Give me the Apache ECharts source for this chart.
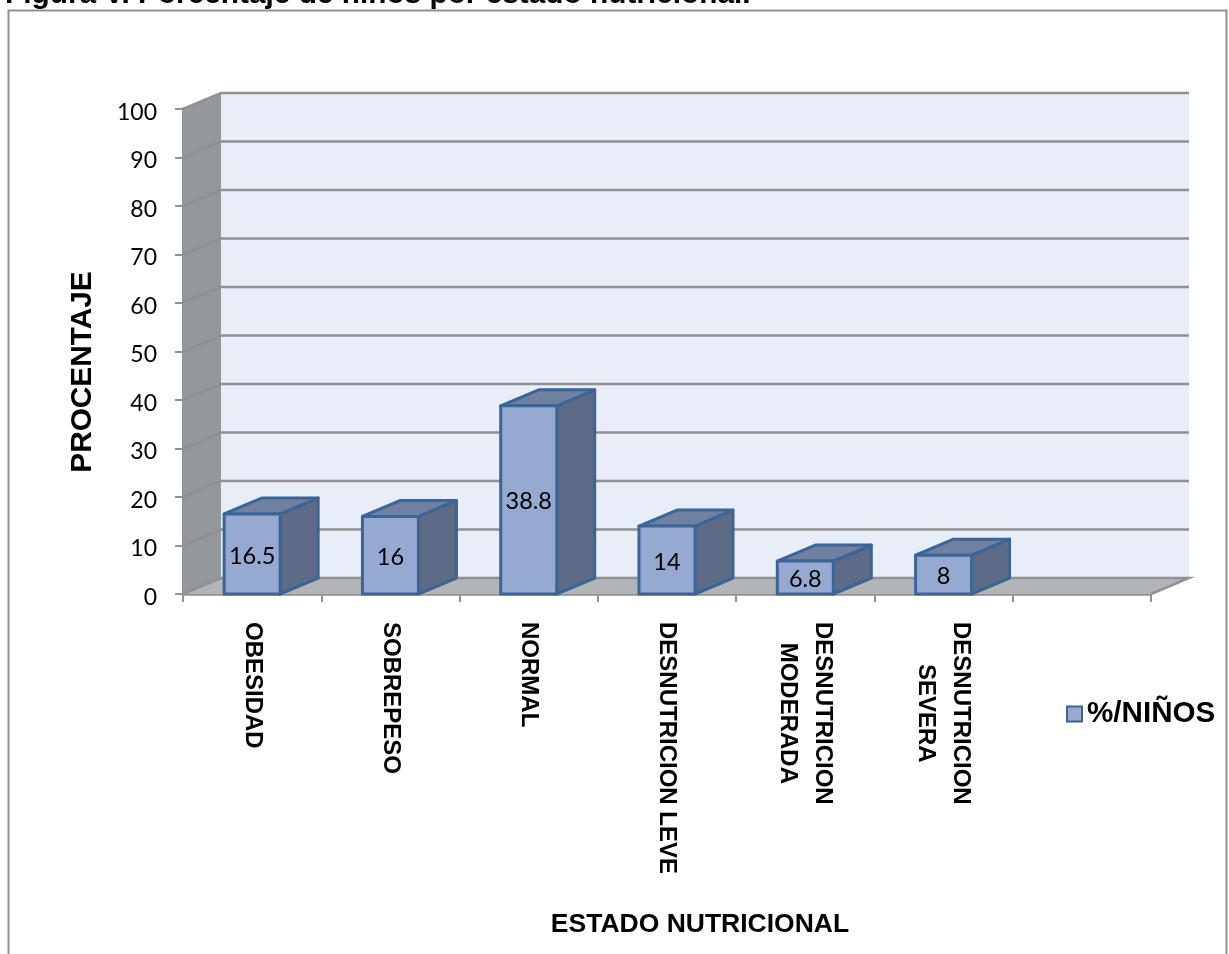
<!DOCTYPE html>
<html>
<head>
<meta charset="utf-8">
<style>html,body{margin:0;padding:0;background:#fff}#chart{width:1229px;height:954px}</style>
<script src="https://cdn.jsdelivr.net/npm/echarts@6/dist/echarts.min.js"></script>
</head>
<body>
<div id="chart"></div>
<script>
// Nutritional status of the surveyed children, in percent
const categories = ['OBESIDAD', 'SOBREPESO', 'NORMAL', 'DESNUTRICION LEVE', 'DESNUTRICION\nMODERADA', 'DESNUTRICION\nSEVERA', ''];
const percentages = [16.5, 16, 38.8, 14, 6.8, 8];
const yTicks = [0, 10, 20, 30, 40, 50, 60, 70, 80, 90, 100];
const seriesName = '%/NIÑOS';

// Oblique offset of the pseudo-3D box and walls
const DEPTH_X = 38;
const DEPTH_Y = -16;
const BAR_RATIO = 0.405;
const ARIAL = '"Liberation Sans", Arial, sans-serif';
const CALIBRI = 'Lato, Carlito, sans-serif';
const GRID_COLOR = '#8f9192';

const chart = echarts.init(document.getElementById('chart'), null, { renderer: 'canvas' });

// Back wall, side wall and floor of the plot box
function renderWalls(params, api) {
  const cs = params.coordSys;
  const left = cs.x, right = cs.x + cs.width, top = cs.y, bottom = cs.y + cs.height;
  const shift = (p) => [p[0] + DEPTH_X, p[1] + DEPTH_Y];
  const poly = (points, fill) => ({ type: 'polygon', shape: { points }, style: { fill, stroke: null } });
  return {
    type: 'group',
    children: [
      poly([shift([left, top]), shift([right, top]), shift([right, bottom]), shift([left, bottom])], '#e9edf7'),
      poly([[left, top], shift([left, top]), shift([left, bottom]), [left, bottom]], '#94979b'),
      poly([[left, bottom], shift([left, bottom]), shift([right, bottom]), [right, bottom]], '#b2b5b8')
    ]
  };
}

// One gridline per tick, bent across the side wall and along the back wall
function renderGridline(params, api) {
  const cs = params.coordSys;
  const y = api.coord([0, api.value(0)])[1];
  const left = cs.x, right = cs.x + cs.width;
  const points = [[left, y], [left + DEPTH_X, y + DEPTH_Y], [right + DEPTH_X, y + DEPTH_Y]];
  if (api.value(0) === 0) points.push([right, y]);
  return { type: 'polyline', shape: { points }, style: { stroke: GRID_COLOR, lineWidth: 2.5, fill: null } };
}

// Box-shaped bar: front, top and side faces plus its value label
function renderBar(params, api) {
  const base = api.coord([api.value(0), 0]);
  const tip = api.coord([api.value(0), api.value(1)]);
  const w = api.size([1, 0])[0] * BAR_RATIO;
  const x0 = base[0] - w / 2, x1 = base[0] + w / 2;
  const yB = base[1], yT = tip[1];
  const edge = { stroke: '#3b6497', lineWidth: 3, lineJoin: 'round' };
  const face = (points, fill) => ({ type: 'polygon', shape: { points }, style: Object.assign({ fill }, edge) });
  return {
    type: 'group',
    children: [
      face([[x1, yB], [x1 + DEPTH_X, yB + DEPTH_Y], [x1 + DEPTH_X, yT + DEPTH_Y], [x1, yT]], '#5d6b86'),
      face([[x0, yT], [x0 + DEPTH_X, yT + DEPTH_Y], [x1 + DEPTH_X, yT + DEPTH_Y], [x1, yT]], '#6f80a0'),
      face([[x0, yB], [x0, yT], [x1, yT], [x1, yB]], '#95a9d1'),
      {
        type: 'text',
        style: {
          text: String(api.value(1)), x: base[0], y: (yB + yT) / 2 + 2,
          textAlign: 'center', textVerticalAlign: 'middle',
          fontFamily: CALIBRI, fontSize: 23.5, fill: '#000'
        }
      }
    ]
  };
}

chart.setOption({
  animation: false,
  backgroundColor: '#ffffff',
  title: {
    text: 'Figura V. Porcentaje de niños por estado nutricional.',
    left: 5, top: -20, padding: 0,
    textStyle: { fontFamily: ARIAL, fontWeight: 'bold', fontSize: 29.8, color: '#000' }
  },
  grid: { left: 183, top: 109, width: 968, height: 485, containLabel: false },
  legend: {
    data: [seriesName], left: 1061, top: 694, itemWidth: 15, itemHeight: 15,
    icon: 'rect',
    textStyle: { fontFamily: ARIAL, fontWeight: 'bold', fontSize: 29.6, color: '#000' },
    itemStyle: { color: '#95a9d1', borderColor: '#3b6497', borderWidth: 2 }
  },
  xAxis: {
    type: 'category', data: categories, boundaryGap: true,
    axisLine: { lineStyle: { color: GRID_COLOR, width: 2.5 } },
    axisTick: { show: true, alignWithLabel: false, length: 8, lineStyle: { color: GRID_COLOR, width: 2 } },
    axisLabel: {
      interval: 0, rotate: -90, margin: 28,
      // Each line of a wrapped label is centred within the label block
      formatter: (value) => value.split('\n').map((line) => `{c|${line}}`).join('\n'),
      rich: {
        c: { align: 'center', lineHeight: 35, fontFamily: ARIAL, fontWeight: 'bold', fontSize: 24, color: '#000' }
      }
    },
    splitLine: { show: false }
  },
  yAxis: {
    type: 'value', min: 0, max: 100, interval: 10,
    axisLine: { show: true, lineStyle: { color: GRID_COLOR, width: 3 } },
    axisTick: { show: true, length: 8, lineStyle: { color: GRID_COLOR, width: 2 } },
    axisLabel: {
      margin: 26,
      // Top padding drops the digits slightly below their tick
      formatter: (value) => `{n|${value}}`,
      rich: { n: { padding: [7, 0, 0, 0], fontFamily: CALIBRI, fontSize: 23, color: '#000' } }
    },
    splitLine: { show: false }
  },
  graphic: [
    { type: 'rect', silent: true, z: -1, shape: { x: 8.5, y: 10.5, width: 1218, height: 960 }, style: { fill: null, stroke: '#8f9192', lineWidth: 2 } },
    {
      type: 'text', x: 83, y: 372, rotation: Math.PI / 2,
      style: { text: 'PROCENTAJE', textAlign: 'center', textVerticalAlign: 'middle', fontFamily: ARIAL, fontWeight: 'bold', fontSize: 29.8, fill: '#000' }
    },
    {
      type: 'text', x: 700, y: 925,
      style: { text: 'ESTADO NUTRICIONAL', textAlign: 'center', textVerticalAlign: 'middle', fontFamily: ARIAL, fontWeight: 'bold', fontSize: 26.5, fill: '#000' }
    }
  ],
  series: [
    { type: 'custom', name: 'walls', z: 1, silent: true, renderItem: renderWalls, data: [0] },
    { type: 'custom', name: 'gridlines', z: 2, silent: true, renderItem: renderGridline, encode: { y: 0 }, data: yTicks.map((t) => [t]) },
    {
      type: 'custom', name: seriesName, z: 3, renderItem: renderBar,
      encode: { x: 0, y: 1 },
      itemStyle: { color: '#95a9d1' },
      data: percentages.map((v, i) => [i, v])
    }
  ]
});
</script>
</body>
</html>
